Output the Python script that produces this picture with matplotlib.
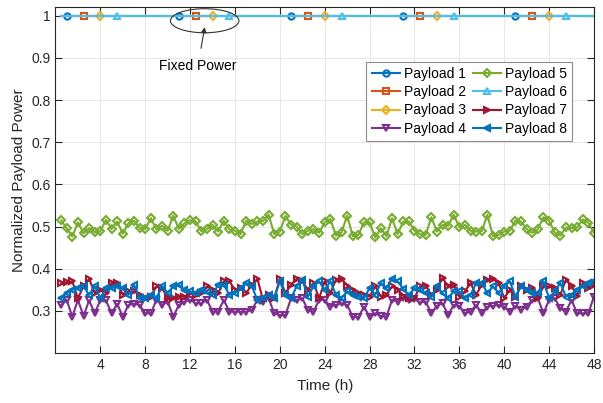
import numpy as np
import matplotlib
matplotlib.use('Agg')
import matplotlib.pyplot as plt
from matplotlib.patches import Ellipse

plt.rcParams['font.family'] = ['Liberation Sans', 'DejaVu Sans']

# time axis, half-hour samples
t = np.arange(1, 97) * 0.5

# fixed power payloads
p_fixed = [1.0] * 96

p4 = [0.314, 0.326, 0.286, 0.326, 0.288, 0.325, 0.294, 0.326, 0.325, 0.294, 0.317, 0.286,
      0.314, 0.317, 0.314, 0.294, 0.294, 0.326, 0.314, 0.322, 0.286, 0.314, 0.322, 0.326,
      0.318, 0.318, 0.326, 0.298, 0.298, 0.326, 0.298, 0.298, 0.298, 0.298, 0.302, 0.326,
      0.322, 0.330, 0.294, 0.290, 0.290, 0.330, 0.326, 0.330, 0.302, 0.298, 0.326, 0.326,
      0.310, 0.314, 0.318, 0.314, 0.286, 0.285, 0.310, 0.286, 0.294, 0.288, 0.286, 0.326,
      0.322, 0.330, 0.326, 0.328, 0.320, 0.322, 0.294, 0.312, 0.318, 0.290, 0.314, 0.312,
      0.294, 0.298, 0.314, 0.294, 0.310, 0.312, 0.314, 0.310, 0.298, 0.312, 0.302, 0.310,
      0.326, 0.330, 0.294, 0.326, 0.330, 0.306, 0.298, 0.326, 0.294, 0.294, 0.294, 0.334]

p5 = [0.515, 0.496, 0.476, 0.510, 0.484, 0.496, 0.486, 0.489, 0.516, 0.494, 0.512, 0.483,
      0.508, 0.514, 0.496, 0.494, 0.520, 0.493, 0.502, 0.490, 0.526, 0.494, 0.508, 0.515,
      0.512, 0.489, 0.494, 0.504, 0.488, 0.514, 0.493, 0.490, 0.482, 0.514, 0.506, 0.512,
      0.513, 0.528, 0.482, 0.488, 0.525, 0.504, 0.500, 0.482, 0.490, 0.494, 0.485, 0.510,
      0.518, 0.478, 0.486, 0.526, 0.477, 0.480, 0.510, 0.510, 0.474, 0.496, 0.477, 0.520,
      0.482, 0.512, 0.512, 0.490, 0.482, 0.480, 0.522, 0.488, 0.504, 0.502, 0.528, 0.498,
      0.504, 0.490, 0.488, 0.489, 0.528, 0.477, 0.480, 0.488, 0.490, 0.514, 0.512, 0.494,
      0.485, 0.494, 0.522, 0.514, 0.486, 0.478, 0.498, 0.496, 0.498, 0.517, 0.509, 0.485]

p7 = [0.365, 0.368, 0.370, 0.330, 0.358, 0.376, 0.342, 0.350, 0.342, 0.366, 0.366, 0.338,
      0.346, 0.346, 0.338, 0.330, 0.334, 0.358, 0.354, 0.330, 0.330, 0.334, 0.334, 0.342,
      0.338, 0.342, 0.358, 0.350, 0.342, 0.370, 0.370, 0.350, 0.354, 0.342, 0.362, 0.376,
      0.326, 0.338, 0.330, 0.376, 0.342, 0.362, 0.376, 0.370, 0.350, 0.366, 0.330, 0.370,
      0.342, 0.374, 0.376, 0.360, 0.350, 0.342, 0.338, 0.334, 0.358, 0.334, 0.338, 0.358,
      0.350, 0.336, 0.330, 0.330, 0.358, 0.360, 0.338, 0.350, 0.378, 0.358, 0.362, 0.334,
      0.346, 0.366, 0.338, 0.362, 0.374, 0.376, 0.366, 0.330, 0.350, 0.334, 0.358, 0.350,
      0.354, 0.330, 0.358, 0.358, 0.354, 0.338, 0.374, 0.358, 0.336, 0.366, 0.354, 0.362]

p8 = [0.330, 0.342, 0.350, 0.354, 0.358, 0.338, 0.358, 0.330, 0.354, 0.354, 0.358, 0.354,
      0.338, 0.362, 0.330, 0.330, 0.338, 0.330, 0.358, 0.342, 0.358, 0.362, 0.350, 0.346,
      0.342, 0.350, 0.344, 0.338, 0.362, 0.362, 0.338, 0.342, 0.354, 0.366, 0.358, 0.326,
      0.330, 0.338, 0.330, 0.370, 0.338, 0.330, 0.358, 0.374, 0.334, 0.358, 0.370, 0.350,
      0.370, 0.338, 0.330, 0.346, 0.338, 0.334, 0.330, 0.354, 0.338, 0.366, 0.354, 0.376,
      0.370, 0.352, 0.338, 0.354, 0.350, 0.342, 0.334, 0.358, 0.342, 0.330, 0.346, 0.346,
      0.330, 0.338, 0.366, 0.366, 0.342, 0.358, 0.342, 0.358, 0.370, 0.334, 0.358, 0.350,
      0.342, 0.342, 0.370, 0.330, 0.346, 0.366, 0.334, 0.338, 0.350, 0.358, 0.366, 0.370]

names = ['Payload 1', 'Payload 2', 'Payload 3', 'Payload 4',
         'Payload 5', 'Payload 6', 'Payload 7', 'Payload 8']

# matlab default colour order
colors = ['#0072BD', '#D95319', '#EDB120', '#7E2F8E',
          '#77AC30', '#4DBEEE', '#A2142F', '#0072BD']
markers = ['o', 's', 'D', 'v', 'D', '^', '>', '<']
series = [p_fixed, p_fixed, p_fixed, p4, p5, p_fixed, p7, p8]
# fixed payloads only show a marker every 10 h
mevery = [(1, 20), (4, 20), (7, 20), None, None, (10, 20), None, None]

fig = plt.figure(figsize=(6.03, 4.03), dpi=100)
ax = fig.add_axes([0.092, 0.124, 0.893, 0.858])

for i in range(8):
    ms = 4.5 if markers[i] != 'D' else 3.8
    ax.plot(t, series[i], color=colors[i], marker=markers[i], markevery=mevery[i],
            markersize=ms, markerfacecolor='none', markeredgewidth=1.5,
            linewidth=1.5, label=names[i])

ax.set_xlim(0, 48)
ax.set_ylim(0.2, 1.02)
ax.set_xticks(np.arange(4, 49, 4))
ax.set_yticks([0.3, 0.4, 0.5, 0.6, 0.7, 0.8, 0.9, 1.0])
ax.set_yticklabels(['0.3', '0.4', '0.5', '0.6', '0.7', '0.8', '0.9', '1'])
ax.grid(True, color='#e3e3e3', linewidth=0.6)
ax.set_axisbelow(True)
ax.tick_params(direction='in', length=5, width=0.8, top=True, right=True,
               labelsize=10, colors='#262626')
for s in ax.spines.values():
    s.set_color('#262626')
    s.set_linewidth(0.8)

ax.set_xlabel('Time (h)', fontsize=11, color='#262626', labelpad=5)
ax.set_ylabel('Normalized Payload Power', fontsize=11, color='#262626', labelpad=4)

leg = ax.legend(ncol=2, loc='upper right', bbox_to_anchor=(0.96, 0.843),
                borderaxespad=0, fontsize=10, handlelength=2.0, columnspacing=0.5,
                handletextpad=0.3, labelspacing=0.3, fancybox=False,
                edgecolor='#8c8c8c', framealpha=1)
leg.get_frame().set_linewidth(0.8)

# annotation around the fixed power markers
ax.add_patch(Ellipse((13.3, 0.988), 6.1, 0.057, fill=False, edgecolor='#333333',
                     linewidth=0.8, clip_on=False, zorder=5))
ax.annotate('Fixed Power', xy=(13.3, 0.973), xytext=(12.7, 0.88),
            ha='center', va='center', fontsize=10, color='black',
            arrowprops=dict(arrowstyle='-|>', color='#333333', lw=0.8,
                            mutation_scale=8, shrinkA=6, shrinkB=0))

fig.savefig('out.png', dpi=100)
